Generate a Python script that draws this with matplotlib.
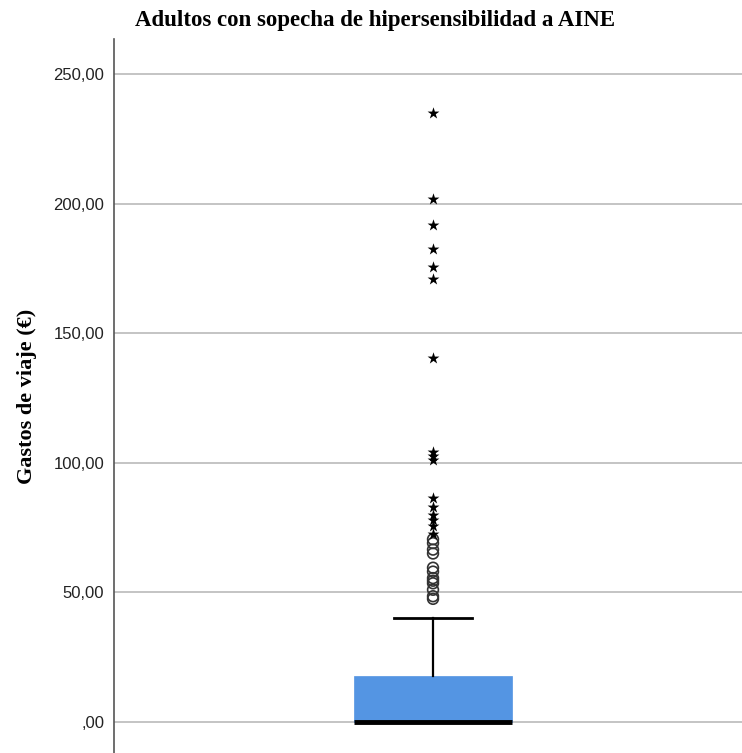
import matplotlib
matplotlib.use("Agg")
import matplotlib.pyplot as plt
from matplotlib.ticker import FuncFormatter

# Resumen de la caja
q1 = 0.0
mediana = 0.0
q3 = 17.7
bigote_inf = 0.0
bigote_sup = 40.0

# Valores atípicos (círculos) y extremos (estrellas)
atipicos = [47.5, 48.5, 51.0, 53.5, 54.5, 55.5, 58.0, 59.5, 65.0, 66.5, 69.0, 70.5]
extremos = [72.5, 75.7, 78.0, 80.0, 83.0, 86.5, 101.0, 102.5, 104.0,
            140.3, 171.0, 175.7, 182.4, 191.7, 201.8, 235.1]

yticks = [0, 50, 100, 150, 200, 250]

fig = plt.figure(figsize=(7.42, 7.53), dpi=100)
ax = fig.add_axes([0.1536, 0.0, 0.8464, 0.948])

pos = 0.508
stats = [{
    "med": mediana, "q1": q1, "q3": q3,
    "whislo": bigote_inf, "whishi": bigote_sup, "fliers": [],
}]
ax.bxp(stats, positions=[pos], widths=0.252, patch_artist=True,
       showfliers=False,
       boxprops=dict(facecolor="#5495e3", edgecolor="#5495e3", linewidth=0.5),
       medianprops=dict(color="black", linewidth=3.5),
       whiskerprops=dict(color="black", linewidth=1.6),
       capprops=dict(color="black", linewidth=2),
       capwidths=0.124, zorder=3)

ax.scatter([pos] * len(atipicos), atipicos, s=60, marker="o",
           facecolors="none", edgecolors="#333333", linewidths=1.2, zorder=4)
ax.scatter([pos] * len(extremos), extremos, s=80, marker="*",
           color="black", linewidths=0, zorder=4)

ax.set_xlim(0, 1)
ax.set_ylim(-12.0, 263.5)
ax.set_yticks(yticks)
ax.yaxis.set_major_formatter(FuncFormatter(
    lambda v, p: ",00" if v == 0 else f"{v:.2f}".replace(".", ",")))
ax.set_xticks([])
ax.tick_params(axis="y", length=0, pad=7, labelsize=12, colors="#222222")
for lab in ax.get_yticklabels():
    lab.set_family("Liberation Sans")

ax.grid(axis="y", color="#c4c4c4", linewidth=1.4, zorder=0)
ax.set_axisbelow(True)
for s in ["top", "right", "bottom"]:
    ax.spines[s].set_visible(False)
ax.spines["left"].set_color("#555555")
ax.spines["left"].set_linewidth(1.2)

fig.text(0.505, 0.973, "Adultos con sopecha de hipersensibilidad a AINE",
         ha="center", va="center", family="Liberation Serif",
         fontweight="bold", fontsize=16.5)
ax.set_ylabel("Gastos de viaje (€)", family="Liberation Serif",
              fontweight="bold", fontsize=16, labelpad=12)

fig.savefig("out.png", dpi=100)
